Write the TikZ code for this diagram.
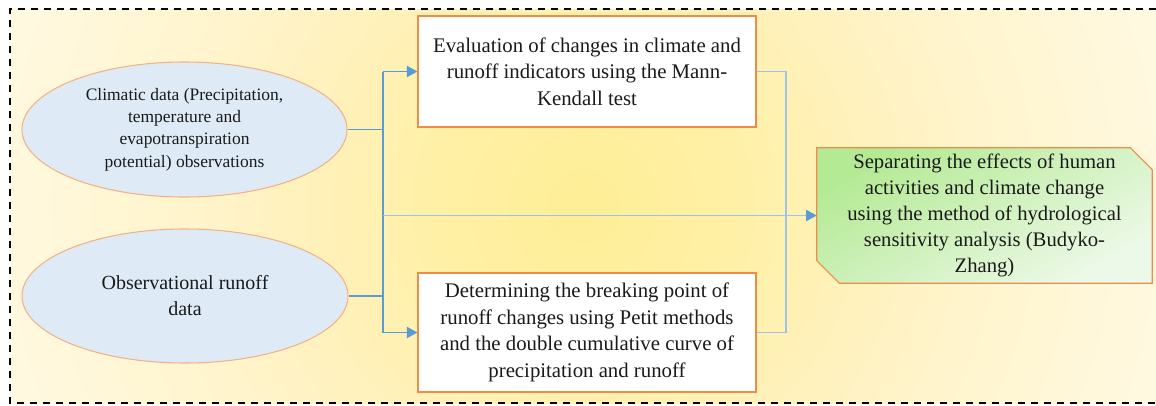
\documentclass[tikz,border=0pt]{standalone}
\usepackage{fontspec}
\setmainfont{Liberation Serif}
\newfontfamily\timesfam{Liberation Serif}
\usetikzlibrary{arrows.meta,shapes.geometric,backgrounds}
\definecolor{bgA}{HTML}{FEEE96}
\definecolor{bgB}{HTML}{FFF0A6}
\definecolor{bgC}{HTML}{FFF2C2}
\definecolor{bgD}{HTML}{FFF3C8}
\definecolor{bgE}{HTML}{FFF8DC}
\definecolor{bgF}{HTML}{FFFAE6}
\pgfdeclareradialshading{bgshade}{\pgfpoint{0bp}{0bp}}{color(0bp)=(bgA); color(5.8bp)=(bgB); color(12.3bp)=(bgC); color(13.8bp)=(bgD); color(21.2bp)=(bgE); color(25bp)=(bgF); color(50bp)=(bgF)}
\definecolor{ellfill}{HTML}{DEEBF7}
\definecolor{ellline}{HTML}{F4B183}
\definecolor{boxline}{HTML}{F08C46}
\definecolor{arrblue}{HTML}{5B9BD5}
\definecolor{lightblue}{HTML}{9DC3E6}
\definecolor{grA}{HTML}{B4EA94}
\definecolor{grB}{HTML}{EDF9E8}
\definecolor{txt}{HTML}{1A1A1A}
\tikzset{
  frameline/.style={draw=black, line width=1.5pt, dash pattern=on 5.25pt off 4.5pt},
  ellnode/.style={ellipse, draw=ellline, fill=ellfill, line width=0.8pt, inner sep=0pt, align=center, text=txt},
  boxnode/.style={rectangle, draw=boxline, fill=white, line width=0.8pt, inner sep=0pt, align=center, text=txt,
    minimum width=253.5pt, font=\timesfam\fontsize{15.6}{20}\selectfont},
  sepnode/.style={rectangle, inner sep=0pt, align=center, text=txt, minimum width=251.25pt, minimum height=101.25pt,
    font=\timesfam\fontsize{15.5}{19.5}\selectfont},
  conn/.style={draw=arrblue, line width=1pt},
  connarr/.style={conn, -{Triangle[length=8pt,width=8.5pt]}},
  lightconn/.style={draw=lightblue, line width=1.1pt},
  lightarr/.style={lightconn, -{Triangle[length=8pt,width=8.5pt,color=arrblue]}}
}
\begin{document}
\begin{tikzpicture}[x=0.75pt,y=-0.75pt]
\useasboundingbox (0,0) rectangle (1156,405);
\begin{scope}[on background layer]
  \clip (10,9) rectangle (1156,403);
  \shade[shading=bgshade] (583,206) circle [radius=487.5pt];
\end{scope}
\draw[frameline] (1156,9) -- (10,9) -- (10,403) -- (1156,403);

\node[ellnode, minimum width=243.75pt, minimum height=101.25pt, font=\timesfam\fontsize{13.1}{16.7}\selectfont] (e1) at (184.5,129.5)
  {Climatic data (Precipitation,\\ temperature and\\ evapotranspiration\\ potential) observations};
\node[ellnode, minimum width=244.5pt, minimum height=100.5pt, font=\timesfam\fontsize{15}{19.5}\selectfont] (e2) at (185,296)
  {Observational runoff\\ data};

\node[boxnode, minimum height=83.25pt] (b1) at (587,71.5)
  {Evaluation of changes in climate and\\ runoff indicators using the Mann-\\ Kendall test};
\node[boxnode, minimum height=89.25pt] (b2) at (587,332.5)
  {Determining the breaking point of\\ runoff changes using Petit methods\\ and the double cumulative curve of\\ precipitation and runoff};

\node[sepnode] (sep) at (984.5,215.5)
  {Separating the effects of human\\ activities and climate change\\ using the method of hydrological\\ sensitivity analysis (Budyko-\\ Zhang)};
\begin{scope}[on background layer]
  \path[draw=boxline, line width=0.8pt, top color=grA, bottom color=grB, shading angle=30]
    (sep.north west) -- ([xshift=-16.5pt]sep.north east) -- ([yshift=-16.5pt]sep.north east)
    -- (sep.south east) -- ([xshift=17pt]sep.south west) -- ([yshift=17pt]sep.south west) -- cycle;
\end{scope}

\coordinate (jt) at (383,71.5);
\coordinate (jb) at (383,332.5);
\coordinate (rx) at (786,71.5);

\draw[conn] (jt) -- (jb);
\draw[conn] (e1.east) -- (e1.east -| jt);
\draw[conn] (e2.east) -- (e2.east -| jt);
\draw[connarr] (jt) -- (b1.west);
\draw[connarr] (jb) -- (b2.west);
\draw[lightarr] (sep.west -| jt) -- (sep.west);
\draw[lightconn] (b1.east) -- (b1.east -| rx) -- (b2.east -| rx) -- (b2.east);
\end{tikzpicture}
\end{document}
